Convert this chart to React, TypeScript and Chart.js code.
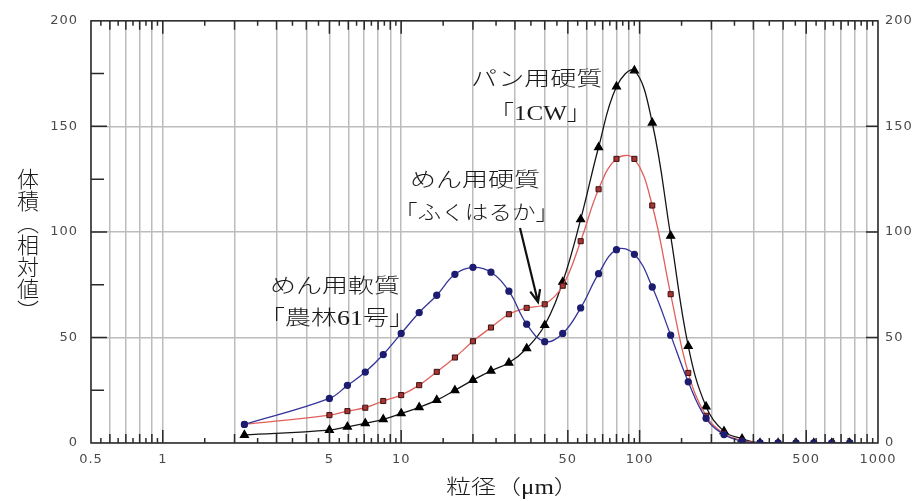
import React, { useEffect, useRef } from 'react';
import { Chart, registerables } from 'chart.js';

Chart.register(...registerables);

// 粒径 (µm) of each measured point
const particleSizes = [2.2, 5, 5.95, 7.07, 8.41, 10, 11.9, 14.1, 16.8, 20, 23.8, 28.3, 33.6, 40, 47.6, 56.6, 67.3, 80, 95.1, 113, 135, 160, 190, 226, 269, 320, 381, 453, 538, 640, 761];

// 体積 (相対値)
const softNorin61 = [8.8, 21.1, 27.3, 33.6, 41.9, 51.9, 61.8, 70.0, 79.9, 83.2, 80.9, 71.9, 56.3, 48.0, 51.9, 64.0, 80.2, 91.6, 89.4, 73.9, 51.1, 29.0, 11.7, 4.0, 0.8, 0, 0, 0, 0, 0, 0];
const hardFukuharuka = [8.8, 13.2, 15.1, 16.7, 19.9, 22.7, 27.4, 33.7, 40.5, 48.2, 54.7, 61.0, 64.0, 65.7, 74.5, 95.6, 120.2, 134.6, 134.6, 112.5, 70.5, 33.2, 12.9, 4.5, 1.2, 0, 0, 0, 0, 0, 0];
const hard1CW = [3.8, 6.1, 7.7, 9.3, 11.2, 14.0, 16.9, 20.3, 25.0, 29.8, 34.2, 38.0, 44.8, 55.8, 76.3, 105.9, 140.1, 168.8, 176.4, 151.7, 98.1, 45.9, 17.3, 5.5, 2.0, 0, 0, 0, 0, 0, 0];

const xGridValues = [0.5, 0.6, 0.7, 0.8, 0.9, 1, 2, 3, 4, 5, 6, 7, 8, 9, 10, 20, 30, 40, 50, 60, 70, 80, 90, 100, 200, 300, 400, 500, 600, 700, 800, 900, 1000];
const xTickLabels = [0.5, 1, 5, 10, 50, 100, 500, 1000];
const yTickValues = [0, 50, 100, 150, 200];
const yMarkValues = [25, 50, 75, 100, 125, 150, 175];

const toPoints = (ys: number[]) => particleSizes.map((x, i) => ({ x, y: ys[i] }));

const framePlugin = {
  id: 'frameAndTicks',
  beforeDraw(chart: any) {
    chart.ctx.letterSpacing = '1px';
  },
  afterDraw(chart: any) {
    const { ctx, chartArea: a, scales } = chart;
    const xs = scales.x;
    const ys = scales.y;
    ctx.save();
    ctx.letterSpacing = '0px';
    ctx.strokeStyle = '#2a2a2a';
    ctx.lineWidth = 1.5;
    ctx.beginPath();
    for (const v of yMarkValues) {
      const py = ys.getPixelForValue(v);
      const major = v % 50 === 0;
      ctx.moveTo(a.left, py);
      ctx.lineTo(a.left + (major ? 16 : 13), py);
      if (major) {
        ctx.moveTo(a.right, py);
        ctx.lineTo(a.right - 12, py);
      }
    }
    for (const d of [0.1, 1, 10, 100]) {
      for (let m = 1; m < 10; m += 0.5) {
        const v = m * d;
        if (v < 0.55 || v > 999) continue;
        const len = m === 1 || m === 5 ? 13 : Number.isInteger(m) ? 9 : 5;
        const px = xs.getPixelForValue(v);
        ctx.moveTo(px, a.bottom);
        ctx.lineTo(px, a.bottom - len);
        ctx.moveTo(px, a.top);
        ctx.lineTo(px, a.top + len);
      }
    }
    ctx.stroke();
    ctx.strokeRect(a.left, a.top, a.right - a.left, a.bottom - a.top);

    // arrow pointing to the ふくはるか shoulder
    const x0 = 520, y0 = 228, x1 = 538, y1 = 302;
    ctx.strokeStyle = '#111';
    ctx.lineWidth = 2.2;
    ctx.beginPath();
    ctx.moveTo(x0, y0);
    ctx.lineTo(x1, y1);
    const ang = Math.atan2(y1 - y0, x1 - x0);
    const hl = 13;
    ctx.moveTo(x1 - hl * Math.cos(ang - 0.4), y1 - hl * Math.sin(ang - 0.4));
    ctx.lineTo(x1, y1);
    ctx.lineTo(x1 - hl * Math.cos(ang + 0.4), y1 - hl * Math.sin(ang + 0.4));
    ctx.stroke();
    ctx.restore();
  },
};

const tickFont = { family: '"DejaVu Sans", Arial, sans-serif', size: 13 };

export default function App() {
  const ref = useRef<HTMLCanvasElement | null>(null);

  useEffect(() => {
    if (!ref.current) return;
    const chart = new Chart(ref.current, {
      type: 'line',
      data: {
        datasets: [
          {
            label: 'めん用軟質「農林61号」',
            data: toPoints(softNorin61),
            borderColor: '#34349a',
            backgroundColor: '#1c1c70',
            pointBackgroundColor: '#1c1c70',
            pointBorderColor: '#1c1c70',
            pointStyle: 'circle',
            pointRadius: 3,
            borderWidth: 1.3,
            tension: 0.4,
          },
          {
            label: 'めん用硬質「ふくはるか」',
            data: toPoints(hardFukuharuka),
            borderColor: '#e0605c',
            backgroundColor: '#a83434',
            pointBackgroundColor: '#a83434',
            pointBorderColor: '#3a1212',
            pointBorderWidth: 1,
            pointStyle: 'rect',
            pointRadius: 3.6,
            borderWidth: 1.3,
            tension: 0.4,
          },
          {
            label: 'パン用硬質「1CW」',
            data: toPoints(hard1CW),
            borderColor: '#151515',
            backgroundColor: '#000',
            pointBackgroundColor: '#000',
            pointBorderColor: '#000',
            pointStyle: 'triangle',
            pointRadius: 4.5,
            borderWidth: 1.3,
            tension: 0.4,
          },
        ],
      },
      options: {
        responsive: false,
        animation: false,
        layout: { padding: { top: 20, left: 0, right: 0, bottom: 0 } },
        plugins: { legend: { display: false }, tooltip: { enabled: false } },
        scales: {
          x: {
            type: 'logarithmic',
            min: 0.5,
            max: 1000,
            afterBuildTicks: (scale: any) => {
              scale.ticks = xGridValues.map((v) => ({ value: v }));
            },
            afterFit: (scale: any) => {
              scale.height = 58;
            },
            ticks: {
              autoSkip: false,
              maxRotation: 0,
              padding: 9,
              color: '#4a4a4a',
              font: tickFont,
              callback: (v: any) => {
                const n = Number(v);
                const hit = xTickLabels.find((l) => Math.abs(l - n) / l < 1e-6);
                return hit !== undefined ? String(hit) : '';
              },
            },
            grid: { color: '#bcbcbc', lineWidth: 1.5, drawTicks: false },
            border: { display: false },
          },
          y: {
            type: 'linear',
            position: 'left',
            min: 0,
            max: 200,
            afterBuildTicks: (scale: any) => {
              scale.ticks = yTickValues.map((v) => ({ value: v }));
            },
            afterFit: (scale: any) => {
              scale.width = 91;
            },
            ticks: { padding: 13, color: '#4a4a4a', font: tickFont },
            grid: { color: '#bcbcbc', lineWidth: 1.5, drawTicks: false },
            border: { display: false },
          },
          y2: {
            type: 'linear',
            position: 'right',
            min: 0,
            max: 200,
            afterBuildTicks: (scale: any) => {
              scale.ticks = yTickValues.map((v) => ({ value: v }));
            },
            afterFit: (scale: any) => {
              scale.width = 42;
            },
            ticks: { padding: 7, color: '#4a4a4a', font: tickFont },
            grid: { display: false, drawTicks: false },
            border: { display: false },
          },
        },
      },
      plugins: [framePlugin],
    } as any);
    return () => chart.destroy();
  }, []);

  const serif = '"Liberation Serif", "Noto Sans CJK JP", serif';
  const note = (left: number, top: number, scale: number): React.CSSProperties => ({
    position: 'absolute',
    left,
    top,
    fontSize: 20,
    lineHeight: '24px',
    fontFamily: serif,
    fontWeight: 300,
    color: '#1a1a1a',
    whiteSpace: 'nowrap',
    transform: `scaleX(${scale})`,
    transformOrigin: '0 0',
  });

  return (
    <div style={{ position: 'fixed', left: 0, top: 0, width: 920, height: 501, background: '#fff', overflow: 'hidden' }}>
      <canvas ref={ref} width={920} height={501} style={{ display: 'block' }} />
      <div style={note(471, 67, 1.3)}>パン用硬質</div>
      <div style={note(489, 101, 1.25)}>「1CW」</div>
      <div style={note(410, 168, 1.3)}>めん用硬質</div>
      <div style={note(394, 201, 1.18)}>「ふくはるか」</div>
      <div style={note(270, 274, 1.3)}>めん用軟質</div>
      <div style={note(259, 306, 1.3)}>「農林61号」</div>
      <div style={note(446, 475, 1.25)}>粒径（μm）</div>
      <div
        style={{
          position: 'absolute',
          left: 13,
          top: 168,
          writingMode: 'vertical-rl',
          fontSize: 22,
          lineHeight: '24px',
          fontFamily: serif,
          fontWeight: 300,
          color: '#1a1a1a',
          whiteSpace: 'nowrap',
        }}
      >
        体積（相対値）
      </div>
    </div>
  );
}
